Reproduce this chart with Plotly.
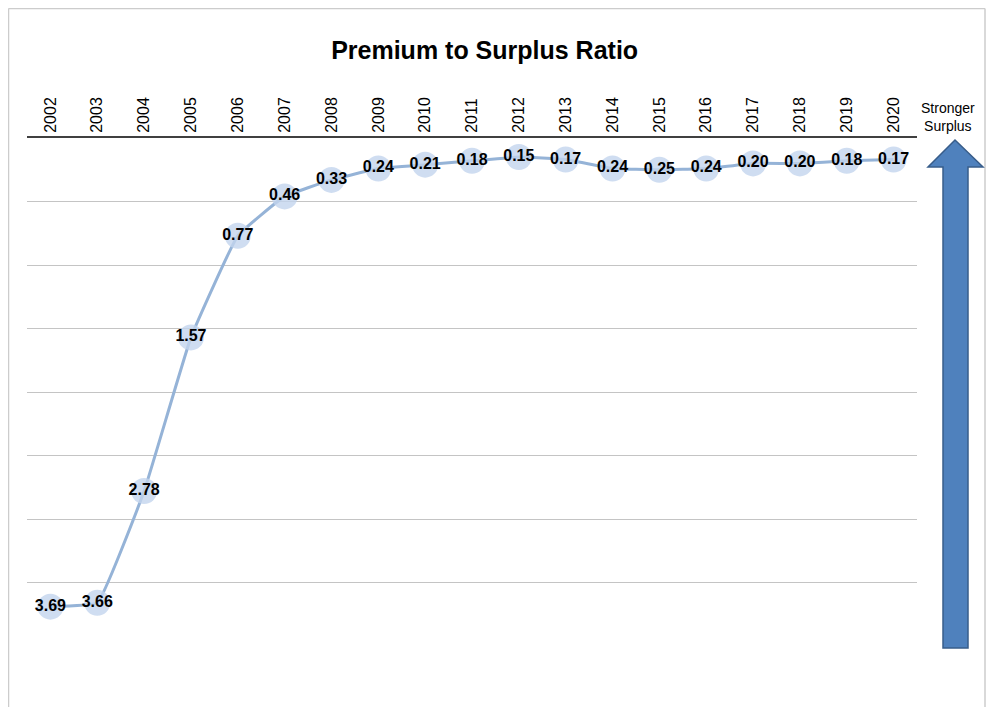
import plotly.graph_objects as go

years = ["2002", "2003", "2004", "2005", "2006", "2007", "2008", "2009", "2010", "2011",
         "2012", "2013", "2014", "2015", "2016", "2017", "2018", "2019", "2020"]
ratio = [3.69, 3.66, 2.78, 1.57, 0.77, 0.46, 0.33, 0.24, 0.21, 0.18,
         0.15, 0.17, 0.24, 0.25, 0.24, 0.20, 0.20, 0.18, 0.17]
labels = [f"{v:.2f}" for v in ratio]

OFF = 8  # page body margin
FW, FH = 994 - OFF, 715 - 2 * OFF
# plot area in page pixels
L, R, T, B = 27, 917, 138, 646
W, H = R - L, B - T

def px(x):
    return (x - L) / W

def py(y):
    return (B - y) / H

fig = go.Figure()
fig.add_trace(go.Scatter(
    x=years, y=ratio, text=labels,
    mode="lines+markers+text",
    line=dict(color="#95b3d7", width=3, shape="spline", smoothing=0.3),
    marker=dict(size=26, color="rgba(195,213,237,0.8)", line=dict(width=0)),
    textposition="middle center",
    textfont=dict(family="Arial, Liberation Sans", size=16, color="black", weight="bold"),
    hoverinfo="x+y",
    cliponaxis=False,
))

# arrow path (page pixels)
tipx, tipy = 955, 140
hl, hr, hy = 928, 983, 167
sl, sr, sb = 943, 968, 648
path = (f"M {px(tipx)},{py(tipy)} L {px(hr)},{py(hy)} L {px(sr)},{py(hy)} "
        f"L {px(sr)},{py(sb)} L {px(sl)},{py(sb)} L {px(sl)},{py(hy)} "
        f"L {px(hl)},{py(hy)} Z")

border = dict(color="#cccccc", width=1.5)
shapes = [
    dict(type="line", xref="paper", yref="paper",
         x0=px(8.5), x1=px(8.5), y0=py(730), y1=py(8.5), line=border),
    dict(type="line", xref="paper", yref="paper",
         x0=px(8.5), x1=px(985), y0=py(8.5), y1=py(8.5), line=border),
    dict(type="line", xref="paper", yref="paper",
         x0=px(985), x1=px(985), y0=py(730), y1=py(8.5), line=border),
    dict(type="path", xref="paper", yref="paper", path=path,
         fillcolor="#4f81bd", line=dict(color="#385d8a", width=1.5)),
]

fig.update_layout(
    width=FW, height=FH,
    margin=dict(l=L - OFF, r=FW - (R - OFF), t=T - OFF, b=FH - (B - OFF)),
    paper_bgcolor="white", plot_bgcolor="white",
    showlegend=False,
    title=dict(text="<b>Premium to Surplus Ratio</b>", x=(515 - OFF) / FW, xref="paper",
               xanchor="center",
               y=1 - (50 - OFF) / FH, yanchor="middle",
               font=dict(family="Arial, Liberation Sans", size=25, color="black")),
    xaxis=dict(side="top", type="category", tickangle=-90,
               tickfont=dict(family="Arial, Liberation Sans", size=16, color="black"),
               showline=True, linecolor="#404040", linewidth=2,
               showgrid=False, ticks="", range=[-0.5, len(years) - 0.5]),
    yaxis=dict(range=[4, 0], dtick=0.5, showticklabels=False, showgrid=True,
               gridcolor="#c4c4c4", gridwidth=1, zeroline=False, showline=False,
               ticks=""),
    shapes=shapes,
    annotations=[dict(text="Stronger<br>Surplus", xref="paper", yref="paper",
                      x=px(948), y=py(117), xanchor="center", yanchor="middle",
                      showarrow=False,
                      font=dict(family="Arial, Liberation Sans", size=14, color="black"))],
)

fig.write_html("out.html")
